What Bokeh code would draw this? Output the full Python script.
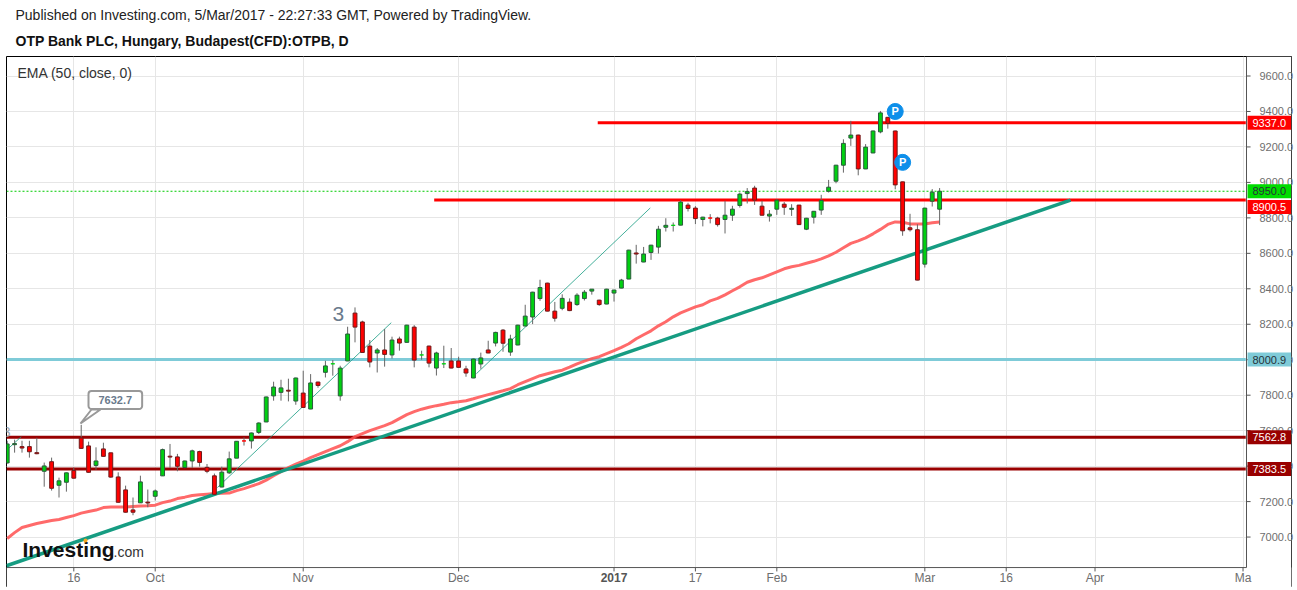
from bokeh.core.properties import value
from bokeh.embed import file_html
from bokeh.models import (BoxAnnotation, ColumnDataSource, FixedTicker, Label,
                          PolyAnnotation, Range1d, Title)
from bokeh.plotting import figure
from bokeh.resources import INLINE

# daily OHLC
opens = [7418, 7521, 7510, 7510, 7476, 7371, 7425, 7292, 7309, 7375,
         7559, 7514, 7404, 7497, 7475, 7339, 7266, 7153, 7193, 7197,
         7230, 7345, 7456, 7452, 7392, 7429, 7482, 7393, 7345, 7282,
         7362, 7445, 7542, 7542, 7590, 7649, 7796, 7816, 7828, 7767,
         7812, 7722, 7874, 7929, 7977, 7796, 7993, 8263, 8213, 8077,
         8038, 8055, 8027, 8117, 8098, 8184, 8027, 8077, 7953, 7977,
         7993, 7993, 7948, 7897, 7976, 8055, 8094, 8167, 8043, 8083,
         8190, 8241, 8345, 8432, 8274, 8290, 8325, 8311, 8345, 8387,
         8336, 8314, 8376, 8404, 8455, 8602, 8551, 8605, 8635, 8747,
         8758, 8759, 8872, 8855, 8791, 8799, 8799, 8791, 8815, 8870,
         8937, 8968, 8866, 8810, 8849, 8877, 8848, 8872, 8736, 8804,
         8844, 8950, 9007, 9097, 9250, 9267, 9076, 9166, 9285, 9367,
         9290, 9003, 8744, 8733, 8539, 8894, 8849]
highs = [7543, 7549, 7543, 7543, 7560, 7420, 7448, 7335, 7364, 7392,
         7632.7, 7538, 7506, 7532, 7475, 7365, 7290, 7223, 7346, 7268,
         7268, 7499, 7525, 7469, 7431, 7493, 7487, 7412, 7358, 7397,
         7482, 7541, 7562, 7589, 7647, 7792, 7876, 7887, 7893, 7899,
         7938, 7919, 7876, 7994, 7998, 7966, 8186, 8295, 8220, 8111,
         8066, 8173, 8130, 8130, 8197, 8195, 8051, 8079, 8045, 8079,
         8066, 8017, 7966, 8006, 8040, 8107, 8158, 8173, 8141, 8197,
         8310, 8383, 8451, 8434, 8326, 8369, 8346, 8375, 8393, 8398,
         8338, 8400, 8394, 8456, 8620, 8648, 8636, 8648, 8755, 8798,
         8774, 8900, 8885, 8866, 8806, 8821, 8806, 8896, 8868, 8943,
         8968, 8981, 8896, 8844, 8906, 8889, 8877, 8873, 8800, 8839,
         8930, 9014, 9099, 9243, 9347, 9269, 9216, 9292, 9403, 9369,
         9292, 9004, 8823, 8764, 8857, 8962, 8968]
lows = [7414, 7476, 7476, 7448, 7467, 7284, 7262, 7223, 7256, 7330,
        7498, 7363, 7380, 7454, 7335, 7194, 7138, 7123, 7192, 7168,
        7206, 7344, 7390, 7371, 7388, 7390, 7397, 7360, 7239, 7281,
        7356, 7445, 7516, 7499, 7581, 7648, 7769, 7769, 7765, 7746,
        7730, 7721, 7842, 7900, 7910, 7769, 7992, 8098, 8040, 7957,
        7928, 7961, 8007, 8051, 8096, 7957, 8000, 7957, 7911, 7953,
        7952, 7955, 7904, 7896, 7949, 8037, 8075, 8045, 8022, 8082,
        8189, 8201, 8332, 8273, 8215, 8279, 8274, 8304, 8334, 8367,
        8304, 8313, 8328, 8403, 8454, 8542, 8550, 8563, 8599, 8723,
        8723, 8758, 8836, 8765, 8752, 8769, 8751, 8712, 8783, 8858,
        8881, 8873, 8814, 8779, 8817, 8817, 8811, 8761, 8731, 8768,
        8817, 8943, 8995, 9055, 9206, 9040, 9075, 9165, 9277, 9303,
        8961, 8699, 8723, 8448, 8520, 8864, 8759]
closes = [7525, 7527, 7502, 7481, 7470, 7401, 7275, 7317, 7362, 7332,
          7500, 7365, 7429, 7455, 7338, 7196, 7140, 7140, 7311, 7192,
          7260, 7493, 7451, 7399, 7429, 7486, 7421, 7371, 7241, 7366,
          7441, 7540, 7542, 7587, 7643, 7790, 7846, 7841, 7823, 7897,
          7731, 7869, 7855, 7965, 7977, 7953, 8145, 8184, 8041, 7987,
          8055, 8030, 8111, 8094, 8195, 7998, 8027, 7981, 8038, 7977,
          7953, 7957, 7925, 8004, 8010, 8038, 8154, 8093, 8117, 8195,
          8246, 8381, 8407, 8274, 8234, 8346, 8277, 8364, 8381, 8398,
          8311, 8398, 8393, 8449, 8618, 8596, 8596, 8646, 8736, 8758,
          8758, 8889, 8853, 8796, 8804, 8799, 8762, 8815, 8849, 8934,
          8948, 8900, 8815, 8821, 8900, 8860, 8854, 8762, 8798, 8837,
          8898, 8973, 9097, 9220, 9267, 9076, 9199, 9290, 9392, 9333,
          8986, 8727, 8733, 8449, 8855, 8945, 8950]
ema = [6992, 7025, 7054, 7065, 7076, 7085, 7093, 7099, 7110, 7121,
       7135, 7144, 7152, 7166, 7169, 7169, 7169, 7172, 7175, 7177,
       7180, 7194, 7203, 7217, 7225, 7234, 7239, 7242, 7245, 7247,
       7248, 7262, 7273, 7287, 7301, 7321, 7346, 7369, 7392, 7411,
       7428, 7448, 7465, 7482, 7499, 7515, 7538, 7566, 7583, 7600,
       7614, 7628, 7645, 7668, 7690, 7707, 7721, 7732, 7741, 7749,
       7758, 7763, 7769, 7780, 7792, 7803, 7814, 7825, 7837, 7859,
       7876, 7893, 7910, 7921, 7932, 7941, 7958, 7977, 7992, 8006,
       8017, 8034, 8051, 8070, 8090, 8118, 8141, 8163, 8191, 8214,
       8242, 8264, 8281, 8298, 8310, 8332, 8346, 8366, 8389, 8411,
       8437, 8451, 8462, 8479, 8495, 8513, 8524, 8532, 8544, 8555,
       8569, 8586, 8606, 8631, 8656, 8670, 8687, 8710, 8735, 8763,
       8777, 8775, 8766, 8766, 8766, 8772, 8777]

# horizontal levels
level_values = [9337.0, 8900.5, 8000.9, 7562.8, 7383.5]
level_starts = [79.8, 57.7, -0.095, -0.095, -0.095]
level_colors = ["#ff0000", "#ff0000", "#7fcbd8", "#990000", "#990000"]
level_text = ["#ffffff", "#ffffff", "#263238", "#ffffff", "#ffffff"]
last_price = 8950.0

# drawn trend lines
trend_x = [-0.095, 143.7]
trend_y = [6838, 8900]
thin_x = [[-0.095, 1.9], [28.4, 51.9], [63.4, 86.9]]
thin_y = [[7490, 7566], [7279, 8209], [7921, 8856]]

# pivot marks
pivot_x = [120, 121]
pivot_y = [9400, 9113]

x_ticks = [9, 20, 40, 61, 82, 93, 104, 124, 135, 147, 167]
x_labels = ["16", "Oct", "Nov", "Dec", "", "17", "Feb", "Mar", "16", "Apr", "Ma"]
y_ticks = [7000, 7200, 7400, 7600, 7800, 8000, 8200, 8400, 8600, 8800, 9000, 9200, 9400, 9600]

# the frame runs to the outer black box; these are the edges of the price area inside it
X_MIN, X_MAX = -0.095, 173.55
Y_MIN, Y_MAX = 6715.5, 9710
X_END = 167.47
Y_BASE = 6828
FONT = "Liberation Sans"

p = figure(frame_width=1285, frame_height=531, output_backend="svg", toolbar_location=None,
           x_range=Range1d(X_MIN, X_MAX), y_range=Range1d(Y_MIN, Y_MAX),
           y_axis_location="right", min_border_left=6, min_border_right=0,
           min_border_top=56, min_border_bottom=0, outline_line_color="#000000",
           outline_line_width=1, outline_line_alpha=1)
p.add_layout(Title(text="OTP Bank PLC, Hungary, Budapest(CFD):OTPB, D", text_font=FONT, text_font_size="14px",
                   text_font_style="bold", text_color="#111111", offset=9, standoff=15), "above")
p.add_layout(Title(text="Published on Investing.com, 5/Mar/2017 - 22:27:33 GMT, Powered by TradingView.",
                   text_font=FONT, text_font_size="14px", text_font_style="normal", text_color="#222222",
                   offset=9, standoff=1), "above")

p.xaxis.ticker = FixedTicker(ticks=x_ticks)
p.xaxis.major_label_overrides = dict(zip(x_ticks, x_labels))
p.yaxis.ticker = FixedTicker(ticks=y_ticks)
p.yaxis.major_label_overrides = {t: "%.1f" % t for t in y_ticks}
for ax in (p.xaxis[0], p.yaxis[0]):
    ax.axis_line_color = None
    ax.major_tick_line_color = None
    ax.minor_tick_line_color = None
    ax.major_label_text_font = FONT
    ax.major_label_text_color = "#6e6e6e"
p.yaxis.major_label_text_font_size = "11px"
p.yaxis.major_label_standoff = -38
p.xaxis.major_label_text_font_size = "12px"
p.xaxis.major_label_standoff = -23
p.grid.grid_line_color = "#e6e6e6"

# white gutters hold the axis labels, the grid stops at the price area
p.quad(X_END, X_MAX, Y_MIN, Y_MAX, color="#ffffff", line_width=0)
p.quad(X_MIN, X_MAX, Y_MIN, Y_BASE, color="#ffffff", line_width=0)
p.line([X_END, X_END, X_MIN], [Y_MAX, Y_BASE, Y_BASE], color="#555555", line_width=1)
p.segment([X_END] * len(y_ticks), y_ticks, [X_END + 0.55] * len(y_ticks), y_ticks, color="#555555", line_width=1)
p.segment(x_ticks, [Y_BASE] * len(x_ticks), x_ticks, [Y_BASE - 22] * len(x_ticks), color="#555555", line_width=1)

# levels and lines, candles go over them
p.segment(level_starts, level_values, [X_END - 0.1] * 5, level_values, color=level_colors, line_width=3)
p.line([X_MIN, X_END], [last_price, last_price], color="#00cc00", line_width=1.2, line_dash="2 2")
p.multi_line(thin_x, thin_y, color="#169c82", line_width=1, line_alpha=0.8)
p.line(list(range(len(ema))), ema, color="#ff5050", line_width=3, line_alpha=0.85)
p.line(trend_x, trend_y, color="#169c82", line_width=3.5)

idx = list(range(len(opens)))
body_colors = ["#00d010" if c >= o else "#ff0000" for o, c in zip(opens, closes)]
edge_colors = []
for o, c in zip(opens, closes):
    if o == c:
        edge_colors.append("#ff0000" if o in (7542, 8799) else "#00d010")
    elif c > o:
        edge_colors.append("#2a5a3c")
    else:
        edge_colors.append("#6e1a1a")
source = ColumnDataSource(data=dict(x=idx, o=opens, h=highs, l=lows, c=closes,
                                    fill=body_colors, edge=edge_colors,
                                    top=[max(a, b) for a, b in zip(opens, closes)],
                                    bottom=[min(a, b) for a, b in zip(opens, closes)]))
p.segment("x", "h", "x", "l", source=source, color="#666666", line_width=1)
p.vbar("x", 0.52, "bottom", "top", source=source, fill_color="fill", line_color="edge", line_width=1)

# pivots
p.scatter(pivot_x, pivot_y, size=16, color="#0d8fea")
p.text(pivot_x, pivot_y, text=["P", "P"], text_color="#ffffff", text_align="center",
       text_baseline="middle", text_font=value(FONT), text_font_style="bold", text_font_size="11px")
# wave label cut off by the left edge
p.text([-0.6], [7590], text=["3"], text_color="#9aa5b1", text_baseline="middle", text_font=value(FONT),
       text_font_size="14px")


def canvas_label(x, y, text, **kw):
    p.add_layout(Label(x=x, y=y, x_units="canvas", y_units="canvas", text=text,
                       text_font=FONT, text_baseline="middle", **kw))


canvas_label(17, 72, "EMA (50, close, 0)", text_font_size="14px", text_color="#333333")
canvas_label(22, 549, "Investing", text_font_size="21px", text_font_style="bold", text_color="#111111")
canvas_label(113, 551, ".com", text_font_size="14px", text_color="#333333")
canvas_label(332, 313, "3", text_font_size="21px", text_color="#6a7a8c")
p.add_layout(BoxAnnotation(left=83, right=87, top=538, bottom=542, left_units="canvas", right_units="canvas",
                           top_units="canvas", bottom_units="canvas", fill_color="#f5a623", fill_alpha=1,
                           line_alpha=0, border_radius=2))

# the year tick is bold, so it is not one of the axis labels
p.add_layout(Label(x=82, y=577, x_units="data", y_units="canvas", text="2017", text_font=FONT,
                   text_font_size="12px", text_font_style="bold", text_color="#555555",
                   text_align="center", text_baseline="middle"))

# callout for the high
p.add_layout(PolyAnnotation(xs=[80, 91, 100], ys=[423, 409, 409], xs_units="canvas", ys_units="canvas",
                            fill_color="#ffffff", fill_alpha=1, line_color="#999999", line_alpha=1, line_width=2))
p.add_layout(Label(x=88, y=399.5, x_units="canvas", y_units="canvas", text="7632.7",
                   text_font=FONT, text_font_size="11px", text_font_style="bold", text_color="#6a7a8c",
                   text_baseline="middle", background_fill_color="#ffffff",
                   border_line_color="#999999", border_line_width=2, border_radius=3, padding=(10, 5)))

# price tags on the axis, 8900.5 sits just under the last price tag
tags = list(zip(level_values, level_colors, level_text)) + [(last_price, "#00dd00", "#263238")]
for val, col, txt in tags:
    p.add_layout(Label(x=1247, y=val, x_units="canvas", y_units="data", text="%.1f" % val,
                       y_offset=-7 if val == 8900.5 else 0,
                       text_font=FONT, text_font_size="11px", text_color=txt, text_baseline="middle",
                       background_fill_color=col, padding=(5, 3)))

open("out.html", "w").write(file_html(p, INLINE))
